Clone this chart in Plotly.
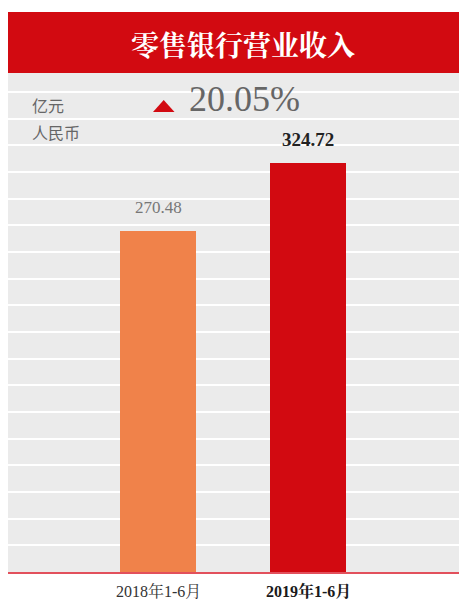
import plotly.graph_objects as go

# ---- data ----
categories = ["2018年1-6月", "2019年1-6月"]
values = [270.48, 324.72]
value_labels = ["270.48", "324.72"]
growth_label = "20.05%"
title_text = "零售银行营业收入"
unit_lines = ["亿元", "人民币"]

OFF = 8  # page body margin
W, H = 467, 600
L, R, T, B = 0, 0, 65, 36
PW, PH = W - L - R, H - T - B

def px(x):
    return (x - OFF - L) / PW

def py(y):
    return (H - B - (y - OFF)) / PH

SERIF = "'Liberation Serif', 'Noto Serif CJK SC', 'Noto Sans CJK SC', serif"
bar_colors = ["#F0824A", "#D20A11"]

fig = go.Figure()
fig.add_trace(go.Bar(
    x=[0, 1], y=values, width=0.507,
    marker=dict(color=bar_colors, line=dict(width=0)),
    hoverinfo="skip",
))

annotations = []
# value labels
styles = [dict(color="#777777", size=17), dict(color="#222222", size=19)]
for i, (v, lab) in enumerate(zip(values, value_labels)):
    txt = lab if i == 0 else f"<b>{lab}</b>"
    annotations.append(dict(x=i, y=v, xref="x", yref="y", text=txt, showarrow=False,
                            yanchor="middle", yshift=24,
                            font=dict(family=SERIF, **styles[i])))
# category labels
for i, c in enumerate(categories):
    txt = c if i == 0 else f"<b>{c}</b>"
    annotations.append(dict(x=i, y=0, xref="x", yref="y", text=txt, showarrow=False,
                            yanchor="middle", yshift=-19,
                            font=dict(family=SERIF, size=16, color="#333333" if i == 0 else "#1a1a1a")))
# title
annotations.append(dict(x=px(242.5), y=py(43.5), xref="paper", yref="paper", text=f"<b>{title_text}</b>",
                        showarrow=False, xanchor="center", yanchor="middle",
                        font=dict(family="'Noto Serif CJK SC', 'Noto Sans CJK SC', serif", size=28, color="white")))
# unit labels
for yy, t in zip([105, 132], unit_lines):
    annotations.append(dict(x=px(30), y=py(yy), xref="paper", yref="paper", text=t, showarrow=False,
                            xanchor="left", yanchor="middle",
                            font=dict(family="'Noto Sans CJK SC', sans-serif", size=16, color="#666666")))
# growth
annotations.append(dict(x=px(187), y=py(99), xref="paper", yref="paper", text=growth_label, showarrow=False,
                        xanchor="left", yanchor="middle",
                        font=dict(family=SERIF, size=36, color="#666666")))

shapes = [
    dict(type="rect", xref="paper", yref="paper", x0=0, x1=1, y0=py(73), y1=py(12),
         fillcolor="#D20A11", line=dict(width=0), layer="above"),
    dict(type="path", xref="paper", yref="paper",
         path=f"M {px(153)},{py(112)} L {px(174.5)},{py(112)} L {px(163.7)},{py(100)} Z",
         fillcolor="#D20A11", line=dict(width=0)),
]

fig.update_layout(
    width=W, height=H,
    margin=dict(l=L, r=R, t=T, b=B, pad=0),
    paper_bgcolor="white", plot_bgcolor="#EBEBEB",
    showlegend=False,
    bargap=0,
    xaxis=dict(range=[-1.0, 2.113], showticklabels=False, showgrid=False, zeroline=False,
               showline=True, linecolor="#E2505C", linewidth=2, ticks="", fixedrange=True),
    yaxis=dict(range=[0, 396.2], tick0=0, dtick=21.17, showticklabels=False, showgrid=True,
               gridcolor="white", gridwidth=1.5, zeroline=False, showline=False, ticks="",
               fixedrange=True),
    annotations=annotations,
    shapes=shapes,
)

fig.write_html("out.html")
